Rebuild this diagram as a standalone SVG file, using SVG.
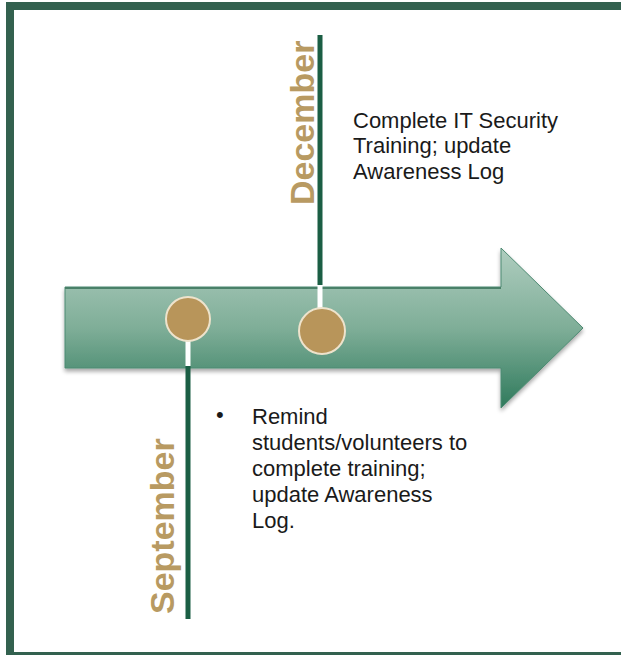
<svg xmlns="http://www.w3.org/2000/svg" width="621" height="655" viewBox="0 0 621 655">
  <defs>
    <linearGradient id="arrowGrad" x1="0" y1="0" x2="0" y2="1">
      <stop offset="0" stop-color="#afcdbf"/>
      <stop offset="0.5" stop-color="#7fae98"/>
      <stop offset="1" stop-color="#2f7a5c"/>
    </linearGradient>
    <filter id="shadow" x="-10%" y="-10%" width="130%" height="130%">
      <feGaussianBlur in="SourceAlpha" stdDeviation="2"/>
      <feOffset dx="0" dy="3"/>
      <feComponentTransfer><feFuncA type="linear" slope="0.35"/></feComponentTransfer>
      <feMerge><feMergeNode/><feMergeNode in="SourceGraphic"/></feMerge>
    </filter>
  </defs>
  <style>
    .frame { fill: #ffffff; stroke: #33614f; stroke-width: 8; }
    .stem { stroke: #1b5e44; stroke-width: 5; }
    .gap { stroke: #ffffff; stroke-width: 5; }
    .dot { fill: #b8955a; stroke: #eee3cc; stroke-width: 2; }
    .month { font-family: "Liberation Sans", Arial, sans-serif; font-weight: bold; font-size: 34px; fill: #b89a62; }
    .note { font-family: "Liberation Sans", Arial, sans-serif; font-size: 22px; fill: #1a1a1a; }
  </style>

  <rect class="frame" x="10" y="6" width="640" height="650"/>

  <g id="timeline-arrow" filter="url(#shadow)">
    <polygon points="65,287 501,287 501,248 583,328 501,408 501,368 65,368" fill="url(#arrowGrad)" stroke="#4d8a72" stroke-width="1"/>
    <line x1="65" y1="288" x2="501" y2="288" stroke="#4a8068" stroke-width="2"/>
  </g>

  <g id="connectors">
    <line class="stem" x1="320" y1="35" x2="320" y2="285"/>
    <line class="gap" x1="320" y1="285" x2="320" y2="310"/>
    <line class="gap" x1="188" y1="340" x2="188" y2="366"/>
    <line class="stem" x1="188" y1="366" x2="188" y2="619"/>
  </g>

  <g id="node-september">
    <circle class="dot" cx="188" cy="319" r="22"/>
    <text class="month" transform="translate(174,614) rotate(-90)">September</text>
    <text class="note" x="216" y="422">•</text>
    <text class="note">
      <tspan x="252" y="424">Remind</tspan>
      <tspan x="252" y="450">students/volunteers to</tspan>
      <tspan x="252" y="476">complete training;</tspan>
      <tspan x="252" y="502">update Awareness</tspan>
      <tspan x="252" y="528">Log.</tspan>
    </text>
  </g>

  <g id="node-december">
    <circle class="dot" cx="322" cy="331" r="23"/>
    <text class="month" transform="translate(314,205) rotate(-90)">December</text>
    <text class="note">
      <tspan x="353" y="128">Complete IT Security</tspan>
      <tspan x="353" y="153">Training; update</tspan>
      <tspan x="353" y="179">Awareness Log</tspan>
    </text>
  </g>
</svg>
